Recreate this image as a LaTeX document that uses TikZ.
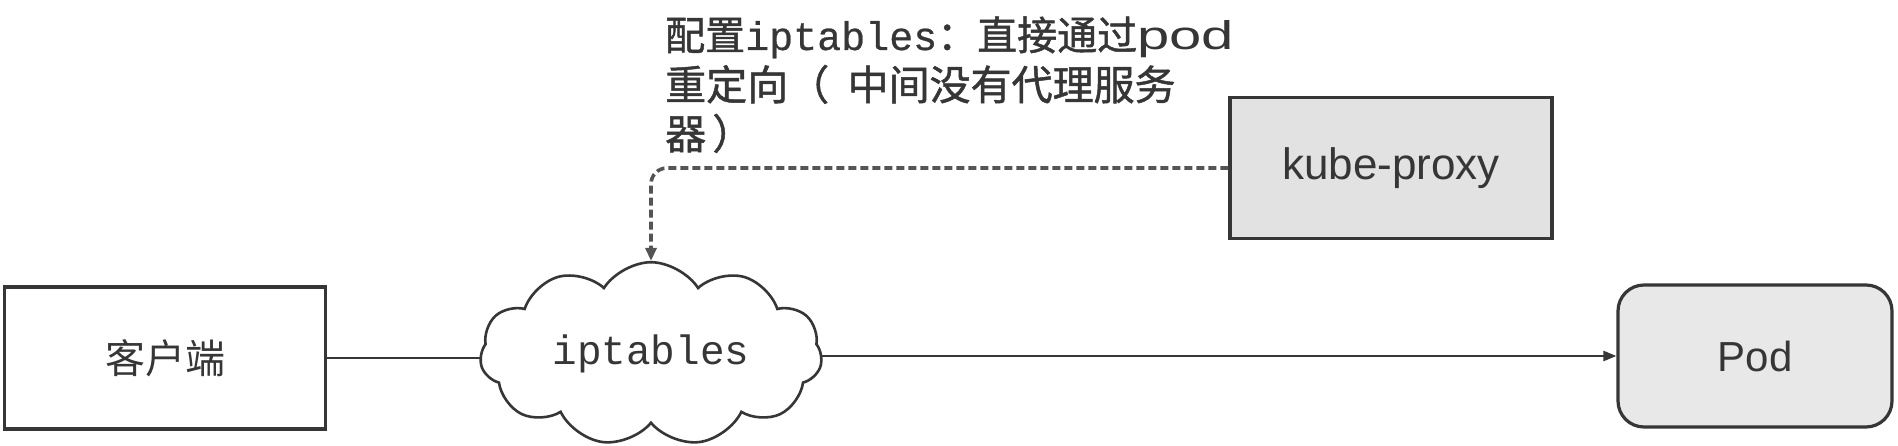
\documentclass[tikz,border=0pt]{standalone}
\usepackage{fontspec}
\setmainfont{Liberation Sans}
\newfontfamily\cjk{Noto Sans CJK SC}
\newfontfamily\cjkb[FakeBold=1.2]{Noto Sans CJK SC}
\newfontfamily\monof{Liberation Mono}
\newfontfamily\monob[FakeBold=0.6]{Liberation Mono}
\usetikzlibrary{shapes.symbols,arrows.meta}
\definecolor{ink}{HTML}{363636}
\definecolor{boxgray}{HTML}{E2E2E2}
\definecolor{podgray}{HTML}{E8E8E8}
\tikzset{
  plainbox/.style={draw=ink, line width=3.2pt, fill=white, inner sep=0pt},
  graybox/.style={draw=ink, line width=3.2pt, fill=boxgray, inner sep=0pt},
  podbox/.style={draw=ink, line width=3.2pt, fill=podgray, rounded corners=26pt, inner sep=0pt},
  cloudnode/.style={cloud, draw=ink, line width=2.6pt, fill=white, cloud puffs=11, cloud puff arc=115, aspect=1.9, inner sep=0pt},
  link/.style={draw=ink, line width=2.4pt},
  arrowlink/.style={draw=ink, line width=2.4pt, -{Triangle[length=13pt,width=10pt]}},
  dashlink/.style={draw=ink!85, line width=3.6pt, dash pattern=on 8pt off 4pt, rounded corners=16pt, -{Triangle[length=13pt,width=11pt]}},
  note/.style={text=ink, anchor=base west, inner sep=0pt},
}
\begin{document}
\begin{tikzpicture}[x=1pt,y=-1pt]
\useasboundingbox (0,0) rectangle (1898,446);
% nodes
\node[plainbox, minimum width=321pt, minimum height=142pt, text=ink] (client) at (165,358)
  {\cjk\fontsize{40}{48}\selectfont 客户端};
\node[cloudnode, minimum width=342pt, minimum height=177pt, text=ink] (ipt) at (651,354)
  {\monof\fontsize{41}{48}\selectfont iptables};
\node[podbox, minimum width=274pt, minimum height=142pt, text=ink] (pod) at (1755,356)
  {\fontsize{42}{48}\selectfont Pod};
\node[graybox, minimum width=322pt, minimum height=141pt, text=ink] (kube) at (1391,168)
  {\fontsize{44}{48}\selectfont kube-proxy};
% annotation
\node[note] (l1) at (665,50) {\fontsize{40}{48}\selectfont{\cjkb 配置}{\monob iptables}{\cjkb ：直接通过}\scalebox{1.45}[1]{pod}};
\node[note] (l2) at (665,100) {\cjkb\fontsize{41}{48}\selectfont 重定向（\hspace{0.45em}中间没有代理服务};
\node[note] (l3) at (665,149) {\cjkb\fontsize{41}{48}\selectfont 器\hspace{0.15em}）};
% connectors
\draw[link] (client.east) -- (client.east -| ipt.west);
\draw[arrowlink] (ipt.east |- pod.west) -- (pod.west);
\draw[dashlink] (kube.west) -- (ipt.north |- kube.west) -- (ipt.north);
\end{tikzpicture}
\end{document}
